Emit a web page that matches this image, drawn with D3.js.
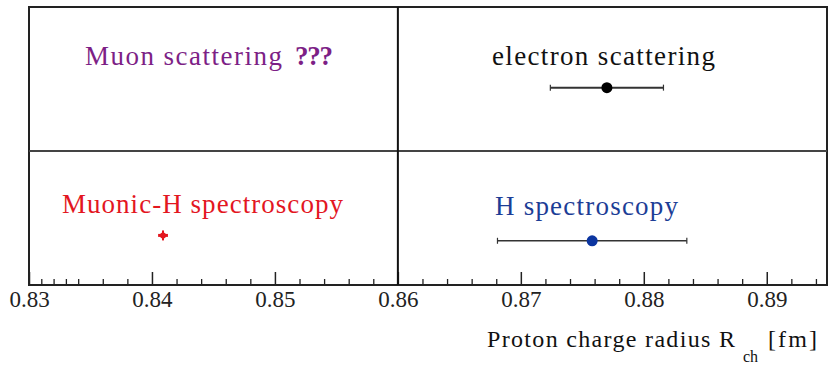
<!DOCTYPE html>
<html>
<head>
<meta charset="utf-8">
<script src="https://cdn.jsdelivr.net/npm/d3@7"></script>
</head>
<body style="margin:0">
<div id="chart"></div>
<script>
  // measurements (radius in fm, row in panel units: 0-1 bottom, 1-2 top)
  const methods = ["electron scattering", "H spectroscopy", "Muonic-H spectroscopy"];
  const radius = [0.8770, 0.8758, 0.8409];
  const radiusErr = [0.0046, 0.0077, 0.0004];
  const rowPos = [1.44, 0.33, 0.37];
  const pointColors = ["#000000", "#0b35a0", "#e3161f"];

  // panel captions (start position in fm, row in panel units)
  const captionText = ["Muon scattering", "???", "electron scattering", "Muonic-H spectroscopy", "H spectroscopy"];
  const captionAt = [0.83455, 0.85163, 0.86765, 0.83268, 0.8679];
  const captionRow = [1.596, 1.596, 1.596, 0.537, 0.522];
  const captionColors = ["#7d1f86", "#7d1f86", "#111111", "#e3161f", "#1c3d96"];

  const majorTicks = [0.83, 0.84, 0.85, 0.86, 0.87, 0.88, 0.89];
  const minorTicks = [0.831, 0.832, 0.833, 0.834, 0.836, 0.838,
    0.842, 0.844, 0.846, 0.848, 0.852, 0.854, 0.856, 0.858,
    0.862, 0.864, 0.866, 0.868, 0.872, 0.874, 0.876, 0.878,
    0.882, 0.884, 0.886, 0.888, 0.892, 0.894];
  const xMin = 0.83, xMax = 0.8949;

  // text box widths so the serif captions span like the original
  const textWidth = { "Muon scattering": 197, "???": 38, "electron scattering": 223,
    "Muonic-H spectroscopy": 281, "H spectroscopy": 183 };

  const width = 831, height = 366;
  const svg = d3.select("#chart").append("svg")
    .attr("width", width)
    .attr("height", height);

  const x = d3.scaleLinear().domain([xMin, xMax]).range([29, 827]);
  const y = d3.scaleLinear().domain([0, 1, 2]).range([285, 151, 7]);

  // all text goes through here so the serif face is set the same way everywhere
  function serifText(sel, size) {
    return sel
      .attr("font-family", "Liberation Serif")
      .attr("font-size", size)
      .style("font-family", "'Liberation Serif'")
      .style("font-size", size + "px");
  }

  // ticks first so frame lines sit on top
  const minorAxis = d3.axisBottom(x).tickValues(minorTicks).tickSize(-6).tickSizeOuter(0).tickFormat("");
  const majorAxis = d3.axisBottom(x).tickValues(majorTicks).tickSize(-13).tickSizeOuter(0)
    .tickPadding(6).tickFormat(d3.format(".2f"));

  svg.append("g").attr("transform", `translate(0,${y(0)})`).call(minorAxis)
    .call(g => g.select(".domain").remove())
    .selectAll("line").attr("stroke", "#222").attr("stroke-width", 1.3);
  const ax = svg.append("g").attr("transform", `translate(0,${y(0)})`).call(majorAxis);
  ax.attr("font-family", "Liberation Serif").attr("font-size", 23);
  ax.select(".domain").remove();
  ax.selectAll("line").attr("stroke", "#222").attr("stroke-width", 1.5);
  serifText(ax.selectAll("text").attr("fill", "#222"), 23);

  // frame and dividers
  svg.append("rect")
    .attr("x", x(xMin)).attr("y", y(2))
    .attr("width", x(xMax) - x(xMin)).attr("height", y(0) - y(2))
    .attr("fill", "none").attr("stroke", "#222").attr("stroke-width", 2);
  svg.append("line")
    .attr("x1", x(xMin)).attr("x2", x(xMax)).attr("y1", y(1)).attr("y2", y(1))
    .attr("stroke", "#444").attr("stroke-width", 2);
  svg.append("line")
    .attr("x1", x(0.86)).attr("x2", x(0.86)).attr("y1", y(2)).attr("y2", y(0))
    .attr("stroke", "#111").attr("stroke-width", 2);

  // captions
  const caps = svg.selectAll("text.caption")
    .data(captionText)
    .join("text")
    .attr("class", "caption")
    .attr("x", (d, i) => x(captionAt[i]))
    .attr("y", (d, i) => y(captionRow[i]))
    .attr("fill", (d, i) => captionColors[i])
    .attr("textLength", d => textWidth[d])
    .attr("lengthAdjust", "spacing")
    .attr("font-weight", d => d === "???" ? "bold" : "normal")
    .text(d => d);
  serifText(caps, 27);

  // error bars
  const pts = d3.range(methods.length);
  const bars = svg.append("g").selectAll("g")
    .data(pts)
    .join("g");
  bars.append("line")
    .attr("x1", i => x(radius[i] - radiusErr[i]))
    .attr("x2", i => x(radius[i] + radiusErr[i]))
    .attr("y1", i => y(rowPos[i]))
    .attr("y2", i => y(rowPos[i]))
    .attr("stroke", i => i === 2 ? pointColors[i] : "#333")
    .attr("stroke-width", i => i === 2 ? 3 : (i === 0 ? 2 : 1.4));
  bars.filter(i => i !== 2).selectAll(".cap")
    .data(i => [[i, -1], [i, 1]])
    .join("line")
    .attr("x1", d => x(radius[d[0]] + d[1] * radiusErr[d[0]]))
    .attr("x2", d => x(radius[d[0]] + d[1] * radiusErr[d[0]]))
    .attr("y1", d => y(rowPos[d[0]]) - 3)
    .attr("y2", d => y(rowPos[d[0]]) + 3)
    .attr("stroke", "#333").attr("stroke-width", 1.2);
  // muonic-H marker: small cross
  bars.filter(i => i === 2).append("line")
    .attr("x1", i => x(radius[i])).attr("x2", i => x(radius[i]))
    .attr("y1", i => y(rowPos[i]) - 5).attr("y2", i => y(rowPos[i]) + 5)
    .attr("stroke", pointColors[2]).attr("stroke-width", 2);
  bars.append("circle")
    .attr("cx", i => x(radius[i]))
    .attr("cy", i => y(rowPos[i]))
    .attr("r", i => i === 2 ? 3 : 5.5)
    .attr("fill", i => pointColors[i]);

  // axis title
  const title = svg.append("g").attr("fill", "#111");
  serifText(title.append("text").attr("x", 487).attr("y", 347)
    .attr("textLength", 248).attr("lengthAdjust", "spacing")
    .text("Proton charge radius R"), 24);
  serifText(title.append("text").attr("x", 743).attr("y", 362)
    .text("ch"), 16);
  serifText(title.append("text").attr("x", 768).attr("y", 347)
    .attr("textLength", 49).attr("lengthAdjust", "spacing")
    .text("[fm]"), 24);
</script>
</body>
</html>
